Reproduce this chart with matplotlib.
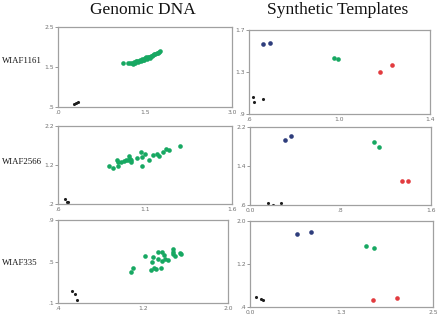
import matplotlib
matplotlib.use("Agg")
import matplotlib.pyplot as plt

# ---------------- data ----------------
row_labels = ["WIAF1161", "WIAF2566", "WIAF335"]
col_titles = ["Genomic DNA", "Synthetic Templates"]

# Row 1 - genomic
g1_green_x = [1.12, 1.20, 1.24, 1.28, 1.30, 1.31, 1.33, 1.35, 1.37, 1.38, 1.40, 1.42, 1.43, 1.45, 1.46, 1.48,
              1.49, 1.50, 1.52, 1.53, 1.55, 1.57, 1.58, 1.60, 1.62, 1.64, 1.66, 1.68, 1.70, 1.72, 1.74, 1.76]
g1_green_y = [1.60, 1.59, 1.60, 1.61, 1.58, 1.62, 1.60, 1.64, 1.66, 1.62, 1.65, 1.68, 1.64, 1.70, 1.67, 1.71,
              1.68, 1.72, 1.74, 1.70, 1.74, 1.76, 1.73, 1.77, 1.78, 1.80, 1.82, 1.83, 1.85, 1.86, 1.88, 1.90]
g1_black_x = [0.28, 0.31, 0.34]
g1_black_y = [0.58, 0.60, 0.62]

# Row 1 - synthetic
s1_blue_x, s1_blue_y = [0.663, 0.693], [1.57, 1.577]
s1_green_x, s1_green_y = [0.977, 0.994], [1.43, 1.42]
s1_red_x, s1_red_y = [1.181, 1.234], [1.297, 1.367]
s1_black_x, s1_black_y = [0.619, 0.624, 0.663], [1.065, 1.011, 1.04]

# Row 2 - genomic
g2_green_x = [0.893, 0.914, 0.937, 0.943, 0.945, 0.962, 0.979, 0.989, 1.000, 1.006, 1.012, 1.018, 1.022,
              1.056, 1.077, 1.083, 1.083, 1.102, 1.121, 1.148, 1.167, 1.181, 1.205, 1.219, 1.240, 1.301]
g2_green_y = [1.166, 1.12, 1.33, 1.27, 1.166, 1.285, 1.30, 1.34, 1.32, 1.44, 1.35, 1.27, 1.33,
              1.37, 1.54, 1.41, 1.166, 1.49, 1.34, 1.46, 1.49, 1.44, 1.53, 1.60, 1.58, 1.68]
g2_black_x = [0.64, 0.65, 0.66]
g2_black_y = [0.33, 0.26, 0.24]

# Row 2 - synthetic
s2_blue_x, s2_blue_y = [0.312, 0.363], [1.94, 2.01]
s2_green_x, s2_green_y = [1.097, 1.139], [1.89, 1.78]
s2_red_x, s2_red_y = [1.348, 1.398], [1.086, 1.086]
s2_black_x, s2_black_y = [0.162, 0.200, 0.277], [0.64, 0.607, 0.64]

# Row 3 - genomic
g3_green_x = [1.089, 1.105, 1.221, 1.271, 1.281, 1.296, 1.306, 1.322, 1.341, 1.344, 1.372, 1.381, 1.381,
              1.400, 1.410, 1.435, 1.478, 1.480, 1.487, 1.504, 1.545, 1.560]
g3_green_y = [0.396, 0.44, 0.55, 0.415, 0.498, 0.546, 0.434, 0.428, 0.521, 0.589, 0.434, 0.589, 0.505,
              0.563, 0.524, 0.515, 0.595, 0.623, 0.569, 0.556, 0.582, 0.569]
g3_black_x = [0.535, 0.564, 0.580]
g3_black_y = [0.216, 0.184, 0.132]

# Row 3 - synthetic
s3_blue_x, s3_blue_y = [0.646, 0.833], [1.764, 1.795]
s3_green_x, s3_green_y = [1.585, 1.690], [1.54, 1.503]
s3_red_x, s3_red_y = [1.680, 2.004], [0.525, 0.573]
s3_black_x, s3_black_y = [0.082, 0.154, 0.182], [0.58, 0.543, 0.525]

# axis ranges and tick labels
g_xlim = [(0.0, 3.0), (0.6, 1.6), (0.4, 2.0)]
g_ylim = [(0.5, 2.5), (0.2, 2.2), (0.1, 0.9)]
g_xticks = [[0.0, 1.5, 3.0], [0.6, 1.1, 1.6], [0.4, 1.2, 2.0]]
g_yticks = [[0.5, 1.5, 2.5], [0.2, 1.2, 2.2], [0.1, 0.5, 0.9]]
g_xticklabels = [[".0", "1.5", "3.0"], [".6", "1.1", "1.6"], [".4", "1.2", "2.0"]]
g_yticklabels = [[".5", "1.5", "2.5"], [".2", "1.2", "2.2"], [".1", ".5", ".9"]]

s_xlim = [(0.6, 1.4), (0.0, 1.6), (0.0, 2.5)]
s_ylim = [(0.9, 1.7), (0.6, 2.2), (0.4, 2.0)]
s_xticks = [[0.6, 1.0, 1.4], [0.0, 0.8, 1.6], [0.0, 1.25, 2.5]]
s_yticks = [[0.9, 1.3, 1.7], [0.6, 1.4, 2.2], [0.4, 1.2, 2.0]]
s_xticklabels = [[".6", "1.0", "1.4"], ["0.0", ".8", "1.6"], ["0.0", "1.3", "2.5"]]
s_yticklabels = [[".9", "1.3", "1.7"], [".6", "1.4", "2.2"], [".4", "1.2", "2.0"]]

# ---------------- style ----------------
GREEN = "#17a862"
BLUE = "#2e3d7c"
RED = "#e23b3f"
BLACK = "#1e1e1e"
FRAME = "#a0a0a0"
TICKC = "#707070"

W, H = 440, 316
fig = plt.figure(figsize=(W / 100, H / 100), dpi=100)
fig.patch.set_facecolor("white")

def rect(x0, y0, x1, y1):
    return [x0 / W, 1 - y1 / H, (x1 - x0) / W, (y1 - y0) / H]

g_rects = [rect(58, 27, 232, 107), rect(58, 126, 232, 204), rect(58, 220, 228, 303)]
s_rects = [rect(249, 30, 430, 114), rect(250, 127, 431, 205), rect(250, 221, 433, 307)]

def style(ax, xlim, ylim, xt, yt, xtl, ytl):
    ax.set_xlim(*xlim)
    ax.set_ylim(*ylim)
    ax.set_xticks(xt)
    ax.set_yticks(yt)
    ax.set_xticklabels(xtl)
    ax.set_yticklabels(ytl)
    for sp in ax.spines.values():
        sp.set_color(FRAME)
        sp.set_linewidth(0.9)
    ax.tick_params(axis="y", length=2, width=0.5, color=TICKC, pad=1,
                   labelsize=4.3, labelcolor=TICKC)
    ax.tick_params(axis="x", length=0, pad=2, labelsize=4.3, labelcolor=TICKC)

genomic = [
    (g1_green_x, g1_green_y, g1_black_x, g1_black_y),
    (g2_green_x, g2_green_y, g2_black_x, g2_black_y),
    (g3_green_x, g3_green_y, g3_black_x, g3_black_y),
]
synthetic = [
    (s1_blue_x, s1_blue_y, s1_green_x, s1_green_y, s1_red_x, s1_red_y, s1_black_x, s1_black_y),
    (s2_blue_x, s2_blue_y, s2_green_x, s2_green_y, s2_red_x, s2_red_y, s2_black_x, s2_black_y),
    (s3_blue_x, s3_blue_y, s3_green_x, s3_green_y, s3_red_x, s3_red_y, s3_black_x, s3_black_y),
]

for i in range(3):
    ax = fig.add_axes(g_rects[i])
    gx, gy, bx, by = genomic[i]
    ax.scatter(gx, gy, s=11, color=GREEN, linewidths=0)
    ax.scatter(bx, by, s=5, color=BLACK, linewidths=0)
    style(ax, g_xlim[i], g_ylim[i], g_xticks[i], g_yticks[i], g_xticklabels[i], g_yticklabels[i])

    ax2 = fig.add_axes(s_rects[i])
    bux, buy, grx, gry, rx, ry, kx, ky = synthetic[i]
    ax2.scatter(bux, buy, s=11, color=BLUE, linewidths=0)
    ax2.scatter(grx, gry, s=11, color=GREEN, linewidths=0)
    ax2.scatter(rx, ry, s=11, color=RED, linewidths=0)
    ax2.scatter(kx, ky, s=5, color=BLACK, linewidths=0)
    style(ax2, s_xlim[i], s_ylim[i], s_xticks[i], s_yticks[i], s_xticklabels[i], s_yticklabels[i])

serif = ["Liberation Serif", "DejaVu Serif"]
fig.text(143 / W, 1 - 10 / H, col_titles[0], ha="center", va="center",
         fontsize=12.5, family=serif, color="#111111")
fig.text(338 / W, 1 - 10 / H, col_titles[1], ha="center", va="center",
         fontsize=12.5, family=serif, color="#111111")

row_y = [61, 162, 263]
for lab, yy in zip(row_labels, row_y):
    fig.text(2 / W, 1 - yy / H, lab, ha="left", va="center",
             fontsize=6.3, family=serif, color="#111111")

fig.savefig("out.png", dpi=100, facecolor="white")
